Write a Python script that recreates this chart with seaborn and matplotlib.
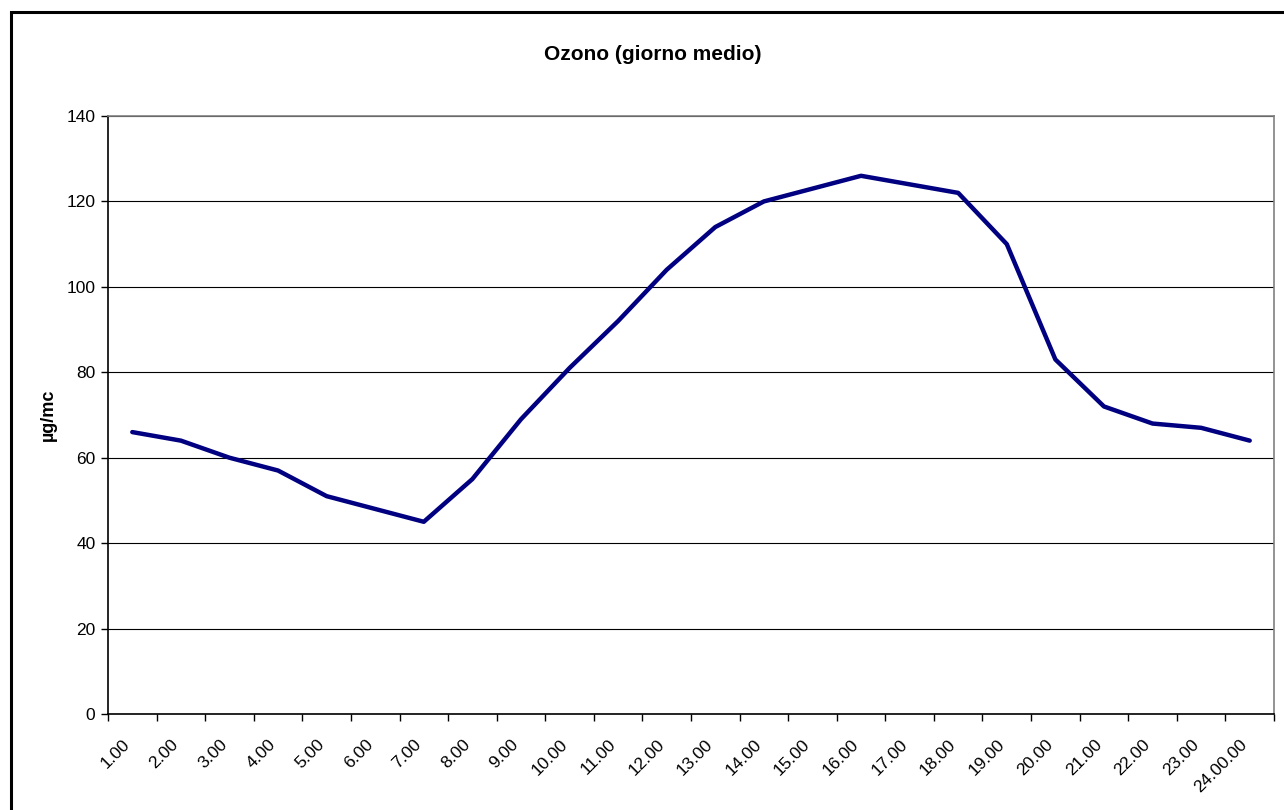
import matplotlib
matplotlib.use("Agg")
import matplotlib.pyplot as plt
import matplotlib.transforms as mtransforms
import seaborn as sns
import pandas as pd
from matplotlib.patches import Rectangle

# Dati: media oraria dell'ozono
ore = ["1.00", "2.00", "3.00", "4.00", "5.00", "6.00", "7.00", "8.00",
       "9.00", "10.00", "11.00", "12.00", "13.00", "14.00", "15.00", "16.00",
       "17.00", "18.00", "19.00", "20.00", "21.00", "22.00", "23.00", "24.00.00"]
ozono = [66, 64, 60, 57, 51, 48, 45, 55, 69, 81, 92, 104, 114, 120, 123, 126,
         124, 122, 110, 83, 72, 68, 67, 64]
y_ticks = [0, 20, 40, 60, 80, 100, 120, 140]

df = pd.DataFrame({"ora": ore, "ozono": ozono})

sns.set_theme(style="white")
plt.rcParams["font.family"] = ["Liberation Sans", "DejaVu Sans"]
plt.rcParams["text.color"] = "black"
plt.rcParams["axes.labelcolor"] = "black"

W, H = 1284, 810
fig = plt.figure(figsize=(W / 100, H / 100), dpi=100)
fig.patch.set_facecolor("white")

# cornice esterna
fig.patches.append(Rectangle((11 / W, -0.05), 1.2, 1 - 12 / H + 0.05,
                             transform=fig.transFigure, fill=False,
                             edgecolor="black", linewidth=2.2))

ax = fig.add_axes([108 / W, (H - 714) / H, (1274 - 108) / W, (714 - 116) / H])
ax.set_facecolor("white")

sns.lineplot(data=df, x="ora", y="ozono", sort=False, color="#000080",
             linewidth=3.2, ax=ax)

n = len(ore)
ax.set_xlim(-0.5, n - 0.5)
ax.set_ylim(0, 140)
ax.set_yticks(y_ticks)
ax.set_yticklabels([str(v) for v in y_ticks], fontsize=12.5, color="black")

ax.set_xticks(range(n))
ax.set_xticklabels(ore, rotation=45, ha="right", rotation_mode="anchor",
                   fontsize=12.5, color="black")
ax.set_xticks([i - 0.5 for i in range(n + 1)], minor=True)
ax.tick_params(axis="x", which="major", length=0, pad=12)
ax.tick_params(axis="x", which="minor", length=5, width=1, color="black",
               direction="out", bottom=True)
ax.tick_params(axis="y", length=5, width=1, color="black", direction="out",
               left=True, pad=4)

# spostamento delle etichette (dopo tick_params, che le riposiziona)
shift = mtransforms.ScaledTranslation(-0.1, -0.06, fig.dpi_scale_trans)
for lab in ax.get_xticklabels():
    lab.set_transform(lab.get_transform() + shift)

ax.yaxis.grid(True, color="black", linewidth=0.8)
ax.xaxis.grid(False)
ax.set_axisbelow(True)

for side in ["left", "bottom"]:
    ax.spines[side].set_color("black")
    ax.spines[side].set_linewidth(1.2)
for side in ["top", "right"]:
    ax.spines[side].set_color("#808080")
    ax.spines[side].set_linewidth(1.2)

ax.set_xlabel("")
ax.set_ylabel("µg/mc", fontsize=13, fontweight="bold", labelpad=7)
fig.text(653 / W, 1 - 54 / H, "Ozono (giorno medio)", ha="center",
         va="center", fontsize=15, fontweight="bold")

fig.savefig("out.png", dpi=100)
